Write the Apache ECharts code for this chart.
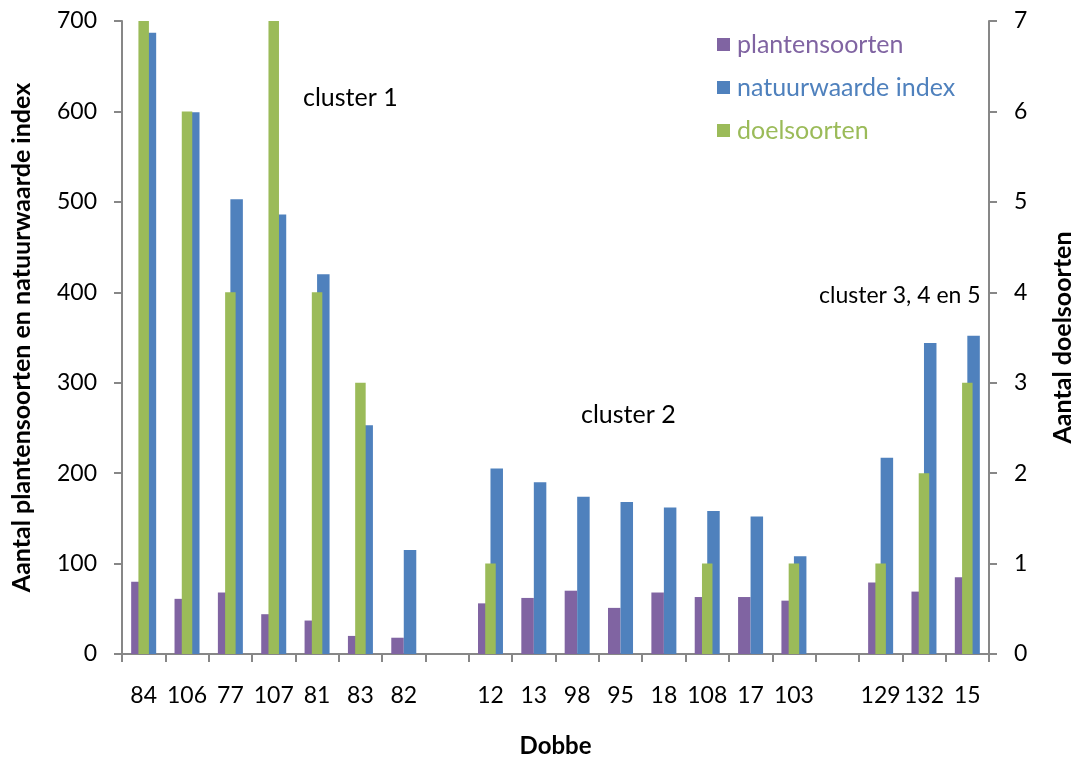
<!DOCTYPE html>
<html>
<head>
<meta charset="utf-8">
<script src="https://cdn.jsdelivr.net/npm/echarts@6/dist/echarts.min.js"></script>
<style>
  html, body { margin: 0; padding: 0; background: #fff; }
  #chart { width: 1083px; height: 763px; }
</style>
</head>
<body>
<div id="chart"></div>
<script>
// Dobbes, grouped per cluster (blank slots separate the clusters)
var dobbes = ['84', '106', '77', '107', '81', '83', '82', ' ',
              '12', '13', '98', '95', '18', '108', '17', '103', '  ',
              '129', '132', '15'];

// Number of plant species per dobbe (left axis)
var plantensoorten = [80, 61, 68, 44, 37, 20, 18, null,
                      56, 62, 70, 51, 68, 63, 63, 59, null,
                      79, 69, 85];

// Nature value index per dobbe (left axis)
var natuurwaardeIndex = [687, 599, 503, 486, 420, 253, 115, null,
                         205, 190, 174, 168, 162, 158, 152, 108, null,
                         217, 344, 352];

// Number of target species per dobbe (right axis)
var doelsoorten = [7, 6, 4, 7, 4, 3, 0, null,
                   1, 0, 0, 0, 0, 1, 0, 1, null,
                   1, 2, 3];

var leftTicks = { min: 0, max: 700, interval: 100 };
var rightTicks = { min: 0, max: 7, interval: 1 };

var PURPLE = '#8064A2', BLUE = '#4F81BD', GREEN = '#9BBB59';
var FONT = 'Lato';
var AXIS_GREY = '#878787';

var chart = echarts.init(document.getElementById('chart'), null, { renderer: 'canvas' });

chart.setOption({
  animation: false,
  textStyle: { fontFamily: FONT },
  grid: { left: 122, right: 90, top: 21, bottom: 107 },
  legend: {
    orient: 'vertical',
    left: 717,
    top: 32,
    padding: 0,
    icon: 'rect',
    itemWidth: 13,
    itemHeight: 13,
    itemGap: 18,
    textStyle: { fontSize: 25, fontFamily: FONT, lineHeight: 25, padding: [0, 0, 0, 2] },
    data: [
      { name: 'plantensoorten', textStyle: { color: PURPLE } },
      { name: 'natuurwaarde index', textStyle: { color: BLUE } },
      { name: 'doelsoorten', textStyle: { color: GREEN } }
    ]
  },
  xAxis: [
    {
      type: 'category',
      data: dobbes,
      name: 'Dobbe',
      nameLocation: 'middle',
      nameGap: 80,
      nameTextStyle: { fontSize: 24, fontWeight: 'bold', color: '#000', fontFamily: FONT },
      axisLine: { lineStyle: { color: AXIS_GREY, width: 2 } },
      axisTick: { show: true, length: 8, lineStyle: { color: AXIS_GREY, width: 2 } },
      axisLabel: { interval: 0, margin: 30, fontSize: 23, color: '#000', fontFamily: FONT },
      splitLine: { show: false }
    },
    {
      type: 'category',
      data: dobbes,
      show: false
    }
  ],
  yAxis: [
    {
      type: 'value',
      min: leftTicks.min,
      max: leftTicks.max,
      interval: leftTicks.interval,
      name: 'Aantal plantensoorten en natuurwaarde index',
      nameLocation: 'middle',
      nameGap: 88,
      nameTextStyle: { fontSize: 25, fontWeight: 'bold', color: '#000', fontFamily: FONT },
      axisLine: { show: true, lineStyle: { color: AXIS_GREY, width: 2 } },
      axisTick: { show: true, length: 8, lineStyle: { color: AXIS_GREY, width: 2 } },
      axisLabel: { margin: 25, fontSize: 23, color: '#000', fontFamily: FONT },
      splitLine: { show: false }
    },
    {
      type: 'value',
      position: 'right',
      min: rightTicks.min,
      max: rightTicks.max,
      interval: rightTicks.interval,
      name: 'Aantal doelsoorten',
      nameLocation: 'middle',
      nameGap: 61,
      nameTextStyle: { fontSize: 25, fontWeight: 'bold', color: '#000', fontFamily: FONT },
      axisLine: { show: true, lineStyle: { color: AXIS_GREY, width: 2 } },
      axisTick: { show: true, length: 8, lineStyle: { color: AXIS_GREY, width: 2 } },
      axisLabel: { margin: 25, fontSize: 23, color: '#000', fontFamily: FONT },
      splitLine: { show: false }
    }
  ],
  series: [
    {
      name: 'plantensoorten',
      type: 'bar',
      xAxisIndex: 0,
      yAxisIndex: 0,
      data: plantensoorten,
      barWidth: 12.5,
      barGap: '0%',
      itemStyle: { color: PURPLE },
      z: 2
    },
    {
      name: 'natuurwaarde index',
      type: 'bar',
      xAxisIndex: 0,
      yAxisIndex: 0,
      data: natuurwaardeIndex,
      barWidth: 12.5,
      barGap: '0%',
      itemStyle: { color: BLUE },
      z: 2
    },
    {
      name: 'doelsoorten',
      type: 'bar',
      xAxisIndex: 1,
      yAxisIndex: 1,
      data: doelsoorten,
      barWidth: 10.5,
      itemStyle: { color: GREEN },
      z: 3
    }
  ],
  graphic: [
    { type: 'text', left: 303, top: 85, style: { text: 'cluster 1', font: '25px Lato', fill: '#000' } },
    { type: 'text', left: 581, top: 402, style: { text: 'cluster 2', font: '25px Lato', fill: '#000' } },
    { type: 'text', left: 819, top: 284, style: { text: 'cluster 3, 4 en 5', font: '23px Lato', fill: '#000' } }
  ]
});
</script>
</body>
</html>
